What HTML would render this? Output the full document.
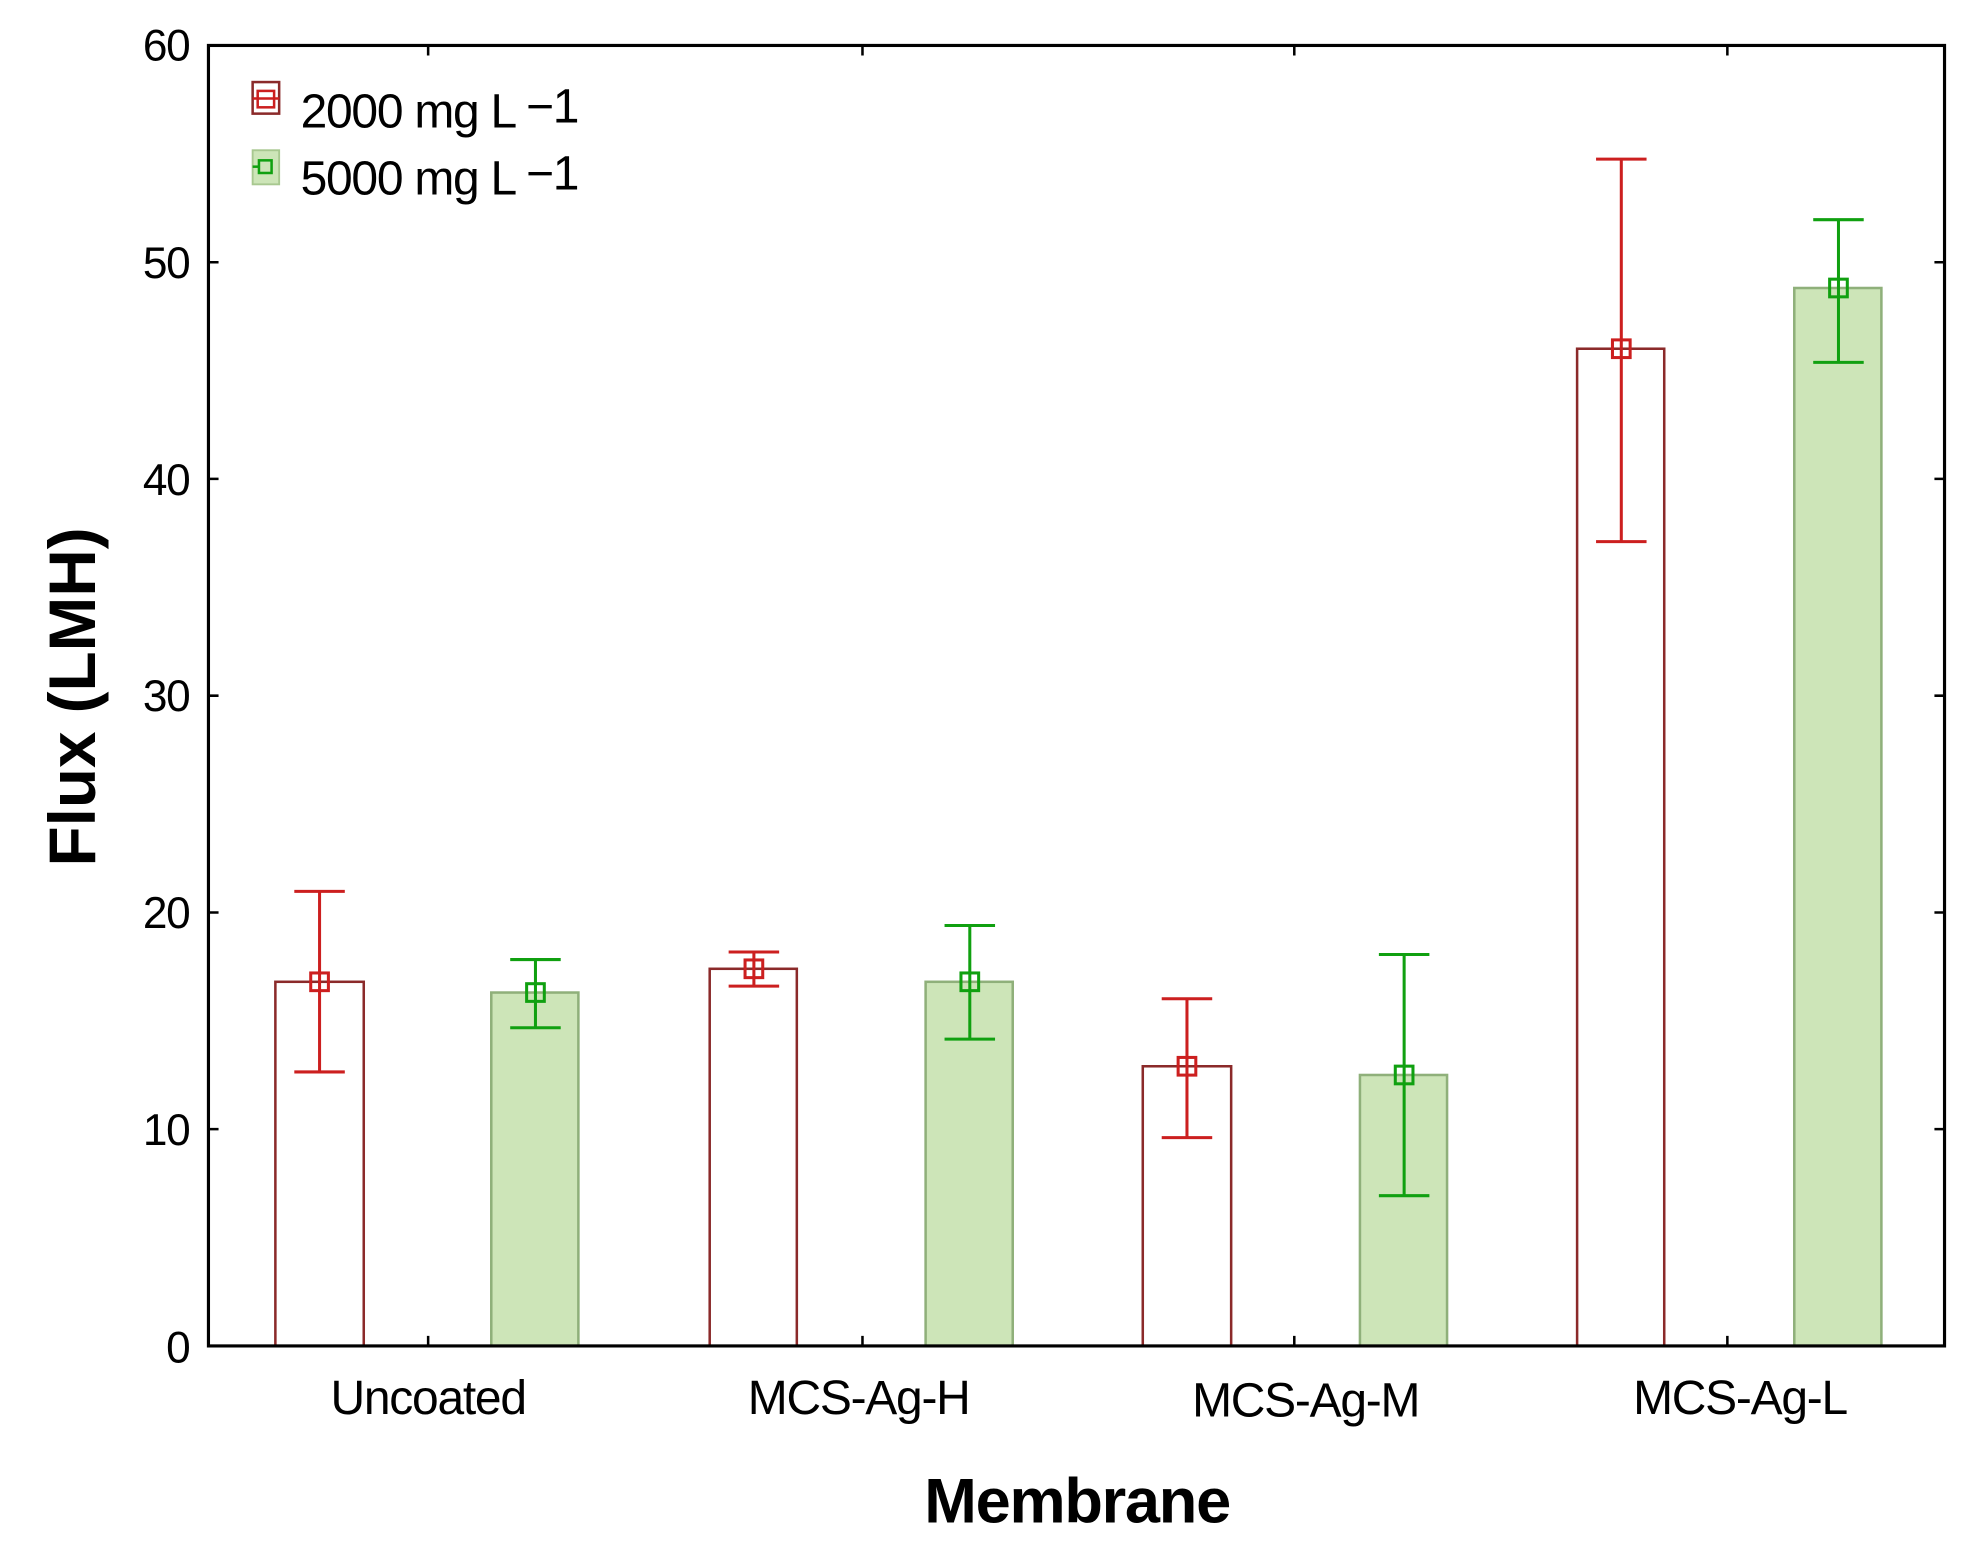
<!DOCTYPE html>
<html><head><style>html,body{margin:0;padding:0;background:#fff}svg{display:block}</style></head>
<body>
<svg width="1980" height="1553" viewBox="0 0 1568 1230" xmlns="http://www.w3.org/2000/svg" font-family="Liberation Sans, Arial, sans-serif">
<rect width="1568" height="1230" fill="#fff"/>
<g stroke-width="2">
<rect x="218" y="777.6" width="70" height="288.4" fill="#fff" stroke="#8b2a2a"/>
<rect x="389" y="786.1" width="69" height="279.9" fill="#cde5b8" stroke="#8fb07a"/>
<rect x="562" y="767.3" width="69" height="298.7" fill="#fff" stroke="#8b2a2a"/>
<rect x="733" y="777.6" width="69" height="288.4" fill="#cde5b8" stroke="#8fb07a"/>
<rect x="905" y="844.5" width="70" height="221.5" fill="#fff" stroke="#8b2a2a"/>
<rect x="1077" y="851.4" width="69" height="214.6" fill="#cde5b8" stroke="#8fb07a"/>
<rect x="1249" y="276.2" width="69" height="789.8" fill="#fff" stroke="#8b2a2a"/>
<rect x="1421" y="228.1" width="69" height="837.9" fill="#cde5b8" stroke="#8fb07a"/>
</g>
<g stroke-width="2.4" fill="none">
<g stroke="#cc1f1f">
<path d="M253 706V849M233 706H273M233 849H273"/><rect x="246" y="770.6" width="14" height="14"/>
<path d="M597 754V781M577 754H617M577 781H617"/><rect x="590" y="760.3" width="14" height="14"/>
<path d="M940 791V901M920 791H960M920 901H960"/><rect x="933" y="837.5" width="14" height="14"/>
<path d="M1284 126V429M1264 126H1304M1264 429H1304"/><rect x="1277" y="269.2" width="14" height="14"/>
</g>
<g stroke="#10a010">
<path d="M424 760V814M404 760H444M404 814H444"/><rect x="417" y="779.1" width="14" height="14"/>
<path d="M768 733V823M748 733H788M748 823H788"/><rect x="761" y="770.6" width="14" height="14"/>
<path d="M1112 756V947M1092 756H1132M1092 947H1132"/><rect x="1105" y="844.4" width="14" height="14"/>
<path d="M1456 174V287M1436 174H1476M1436 287H1476"/><rect x="1449" y="221.1" width="14" height="14"/>
</g>
</g>
<rect x="165" y="36" width="1375" height="1030" fill="none" stroke="#000" stroke-width="2.5"/>
<g stroke="#000" stroke-width="2">
<path d="M165 207.7h8M165 379.3h8M165 551h8M165 722.7h8M165 894.3h8M1540 207.7h-8M1540 379.3h-8M1540 551h-8M1540 722.7h-8M1540 894.3h-8"/>
<path d="M339 1066v-8M683 1066v-8M1025 1066v-8M1368 1066v-8M339 36v8M683 36v8M1025 36v8M1368 36v8"/>
</g>
<g font-size="35" text-anchor="end" fill="#000" letter-spacing="-1">
<text x="150" y="48">60</text><text x="150" y="220">50</text><text x="150" y="392">40</text>
<text x="150" y="563">30</text><text x="150" y="735">20</text><text x="150" y="907">10</text><text x="150" y="1079">0</text>
</g>
<g font-size="38" text-anchor="middle" fill="#000" letter-spacing="-1">
<text x="339" y="1120">Uncoated</text><text x="680" y="1120">MCS-Ag-H</text>
<text x="1034" y="1122">MCS-Ag-M</text><text x="1378" y="1120">MCS-Ag-L</text>
</g>
<text x="853" y="1206" font-size="50" font-weight="bold" text-anchor="middle" letter-spacing="-1">Membrane</text>
<text transform="translate(75,552) rotate(-90)" font-size="52" font-weight="bold" text-anchor="middle">Flux (LMH)</text>
<rect x="200" y="65" width="21" height="25" fill="#fff" stroke="#8b2a2a" stroke-width="2"/>
<rect x="204" y="72" width="13" height="13" fill="none" stroke="#cc1f1f" stroke-width="2"/>
<path d="M200 78h21" stroke="#cc1f1f" stroke-width="2"/>
<rect x="200" y="119" width="21" height="27" fill="#cde5b8" stroke="#a8c890" stroke-width="1.5"/>
<rect x="205" y="127" width="10" height="10" fill="none" stroke="#10a010" stroke-width="2"/>
<path d="M200 132h5" stroke="#10a010" stroke-width="2"/>
<text x="238" y="101" font-size="38" letter-spacing="-1">2000 mg L<tspan dx="8" dy="-4">−1</tspan></text>
<text x="238" y="154" font-size="38" letter-spacing="-1">5000 mg L<tspan dx="8" dy="-4">−1</tspan></text>
</svg>
</body></html>
